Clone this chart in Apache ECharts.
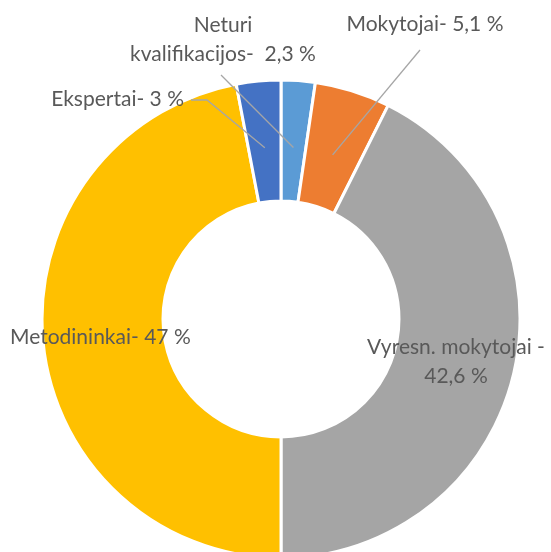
<!DOCTYPE html>
<html>
<head>
<meta charset="utf-8">
<script src="https://cdn.jsdelivr.net/npm/echarts@6/dist/echarts.min.js"></script>
<style>
  html, body { margin: 0; padding: 0; background: #fff; }
  #chart { width: 551px; height: 552px; }
</style>
</head>
<body>
<div id="chart"></div>
<script>
// data, clockwise from 12 o'clock
const categories = ['Neturi kvalifikacijos', 'Mokytojai', 'Vyresn. mokytojai', 'Metodininkai', 'Ekspertai']
const shares = [2.3, 5.1, 42.6, 47, 3]
const labelNames = ['Neturi\nkvalifikacijos-  ', 'Mokytojai- ', 'Vyresn. mokytojai -\n', 'Metodininkai- ', 'Ekspertai- ']
const colors = ['#5B9BD5', '#ED7D31', '#A5A5A5', '#FFC000', '#4472C4']

const center = [281, 319]
const anchorR = 172

// label boxes, as Excel placed them
const labelPos = [
  { x: 223, y: 40, align: 'center', line: [[221, 75]] },
  { x: 425, y: 24, align: 'center', line: [[420, 50]] },
  { x: 456, y: 362, align: 'center' },
  { x: 10, y: 337, align: 'left' },
  { x: 184, y: 99, align: 'right', line: [[207, 100], [191, 100]] }
]

const total = shares.reduce((a, b) => a + b, 0)
const anchors = []
let acc = 0
shares.forEach((v) => {
  const mid = (acc + v / 2) / total
  const a = Math.PI / 2 - mid * Math.PI * 2
  anchors.push([center[0] + anchorR * Math.cos(a), center[1] - anchorR * Math.sin(a)])
  acc += v
})

const fmt = (v) => String(v).replace('.', ',')

const chart = echarts.init(document.getElementById('chart'))
chart.setOption({
  animation: false,
  series: [
    // coloured ring
    {
      type: 'pie',
      z: 2,
      center: center,
      radius: [118, 239],
      startAngle: 90,
      clockwise: true,
      silent: true,
      itemStyle: { borderColor: '#fff', borderWidth: 3 },
      label: { show: false },
      labelLine: { show: false },
      data: categories.map((c, i) => ({ name: c, value: shares[i], itemStyle: { color: colors[i] } }))
    },
    // transparent copy on top, only for labels and leader lines
    {
      type: 'pie',
      z: 5,
      center: center,
      radius: [118, 239],
      startAngle: 90,
      clockwise: true,
      silent: true,
      avoidLabelOverlap: false,
      itemStyle: { color: 'rgba(0,0,0,0)', borderWidth: 0 },
      label: {
        show: true,
        position: 'outside',
        color: '#595959',
        fontFamily: 'Lato',
        fontSize: 21,
        lineHeight: 29,
        formatter: (p) => labelNames[p.dataIndex] + fmt(p.value) + ' %'
      },
      labelLine: {
        show: true,
        minTurnAngle: 0,
        lineStyle: { color: '#A6A6A6', width: 1.3 }
      },
      labelLayout: (params) => {
        const lp = labelPos[params.dataIndex]
        const res = { x: lp.x, y: lp.y, align: lp.align, verticalAlign: 'middle' }
        if (lp.line) {
          const pts = [anchors[params.dataIndex]].concat(lp.line)
          if (pts.length === 2) pts.push(pts[1])
          res.labelLinePoints = pts
        }
        return res
      },
      data: categories.map((c, i) => ({
        name: c,
        value: shares[i],
        labelLine: { show: !!labelPos[i].line }
      }))
    }
  ]
})
</script>
</body>
</html>
